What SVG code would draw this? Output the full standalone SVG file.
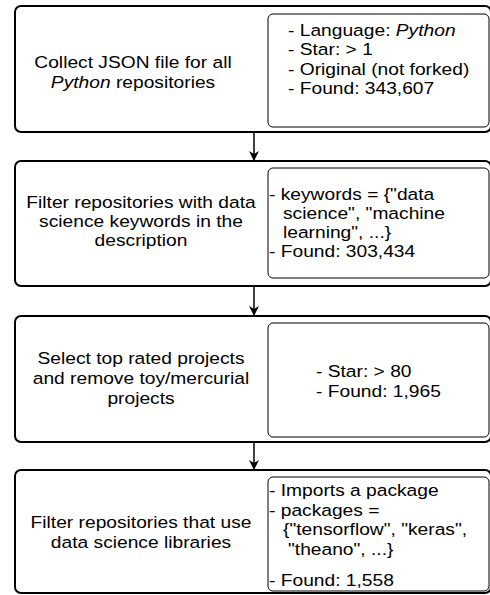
<svg xmlns="http://www.w3.org/2000/svg" width="490" height="595" viewBox="0 0 490 595">
<defs>
<style>
.outer{fill:#fff;stroke:#000;stroke-width:2}
.inner{fill:#fff;stroke:#000;stroke-width:1}
text{font-family:"Liberation Sans",Arial,Helvetica,sans-serif;font-size:17px;fill:#000}
.c{text-anchor:middle}
.conn{stroke:#000;stroke-width:1.5;fill:none}
</style>
<marker id="ah" viewBox="0 0 10 10" refX="9" refY="5" markerWidth="10" markerHeight="10" markerUnits="userSpaceOnUse" orient="auto">
<path d="M0,0 L10,5 L0,10 L3,5 Z" fill="#000"/>
</marker>
</defs>
<rect width="490" height="595" fill="#fff"/>
<g id="connectors">
<line class="conn" x1="254" y1="133" x2="254" y2="160" marker-end="url(#ah)"/>
<line class="conn" x1="254" y1="287" x2="254" y2="315" marker-end="url(#ah)"/>
<line class="conn" x1="254" y1="443" x2="254" y2="469" marker-end="url(#ah)"/>
</g>
<g id="step1">
<rect class="outer" x="15" y="6" width="476" height="126" rx="6"/>
<text class="c" transform="translate(133,68) scale(1.13,1)">Collect JSON file for all</text>
<text class="c" transform="translate(133,88) scale(1.13,1)"><tspan font-style="italic">Python</tspan> repositories</text>
<g id="crit1">
<rect class="inner" x="268" y="14" width="221" height="113" rx="5"/>
<text transform="translate(288,36) scale(1.13,1)">- Language: <tspan font-style="italic">Python</tspan></text>
<text transform="translate(288,55) scale(1.13,1)">- Star: &gt; 1</text>
<text transform="translate(288,75) scale(1.13,1)">- Original (not forked)</text>
<text transform="translate(288,94) scale(1.13,1)">- Found: 343,607</text>
</g>
</g>
<g id="step2">
<rect class="outer" x="15" y="161" width="476" height="125" rx="6"/>
<text class="c" transform="translate(141,208) scale(1.13,1)">Filter repositories with data</text>
<text class="c" transform="translate(141,227) scale(1.13,1)">science keywords in the</text>
<text class="c" transform="translate(141,246) scale(1.13,1)">description</text>
<g id="crit2">
<rect class="inner" x="268" y="168" width="221" height="110" rx="5"/>
<text transform="translate(269,200) scale(1.13,1)">- keywords = {"data</text>
<text transform="translate(283,219) scale(1.13,1)">science", "machine</text>
<text transform="translate(283,238) scale(1.13,1)">learning", ...}</text>
<text transform="translate(269,257) scale(1.13,1)">- Found: 303,434</text>
</g>
</g>
<g id="step3">
<rect class="outer" x="15" y="316" width="476" height="126" rx="6"/>
<text class="c" transform="translate(141,364) scale(1.13,1)">Select top rated projects</text>
<text class="c" transform="translate(141,384) scale(1.13,1)">and remove toy/mercurial</text>
<text class="c" transform="translate(141,404) scale(1.13,1)">projects</text>
<g id="crit3">
<rect class="inner" x="268" y="323" width="221" height="114" rx="5"/>
<text transform="translate(316,377) scale(1.13,1)">- Star: &gt; 80</text>
<text transform="translate(316,397) scale(1.13,1)">- Found: 1,965</text>
</g>
</g>
<g id="step4">
<rect class="outer" x="15" y="470" width="476" height="123" rx="6"/>
<text class="c" transform="translate(141,528) scale(1.13,1)">Filter repositories that use</text>
<text class="c" transform="translate(141,548) scale(1.13,1)">data science libraries</text>
<g id="crit4">
<rect class="inner" x="268" y="477" width="221" height="114" rx="5"/>
<text transform="translate(269,496) scale(1.13,1)">- Imports a package</text>
<text transform="translate(269,516) scale(1.13,1)">- packages =</text>
<text transform="translate(283,535) scale(1.13,1)">{"tensorflow", "keras",</text>
<text transform="translate(288,555) scale(1.13,1)">"theano", ...}</text>
<text transform="translate(269,586) scale(1.13,1)">- Found: 1,558</text>
</g>
</g>
</svg>
